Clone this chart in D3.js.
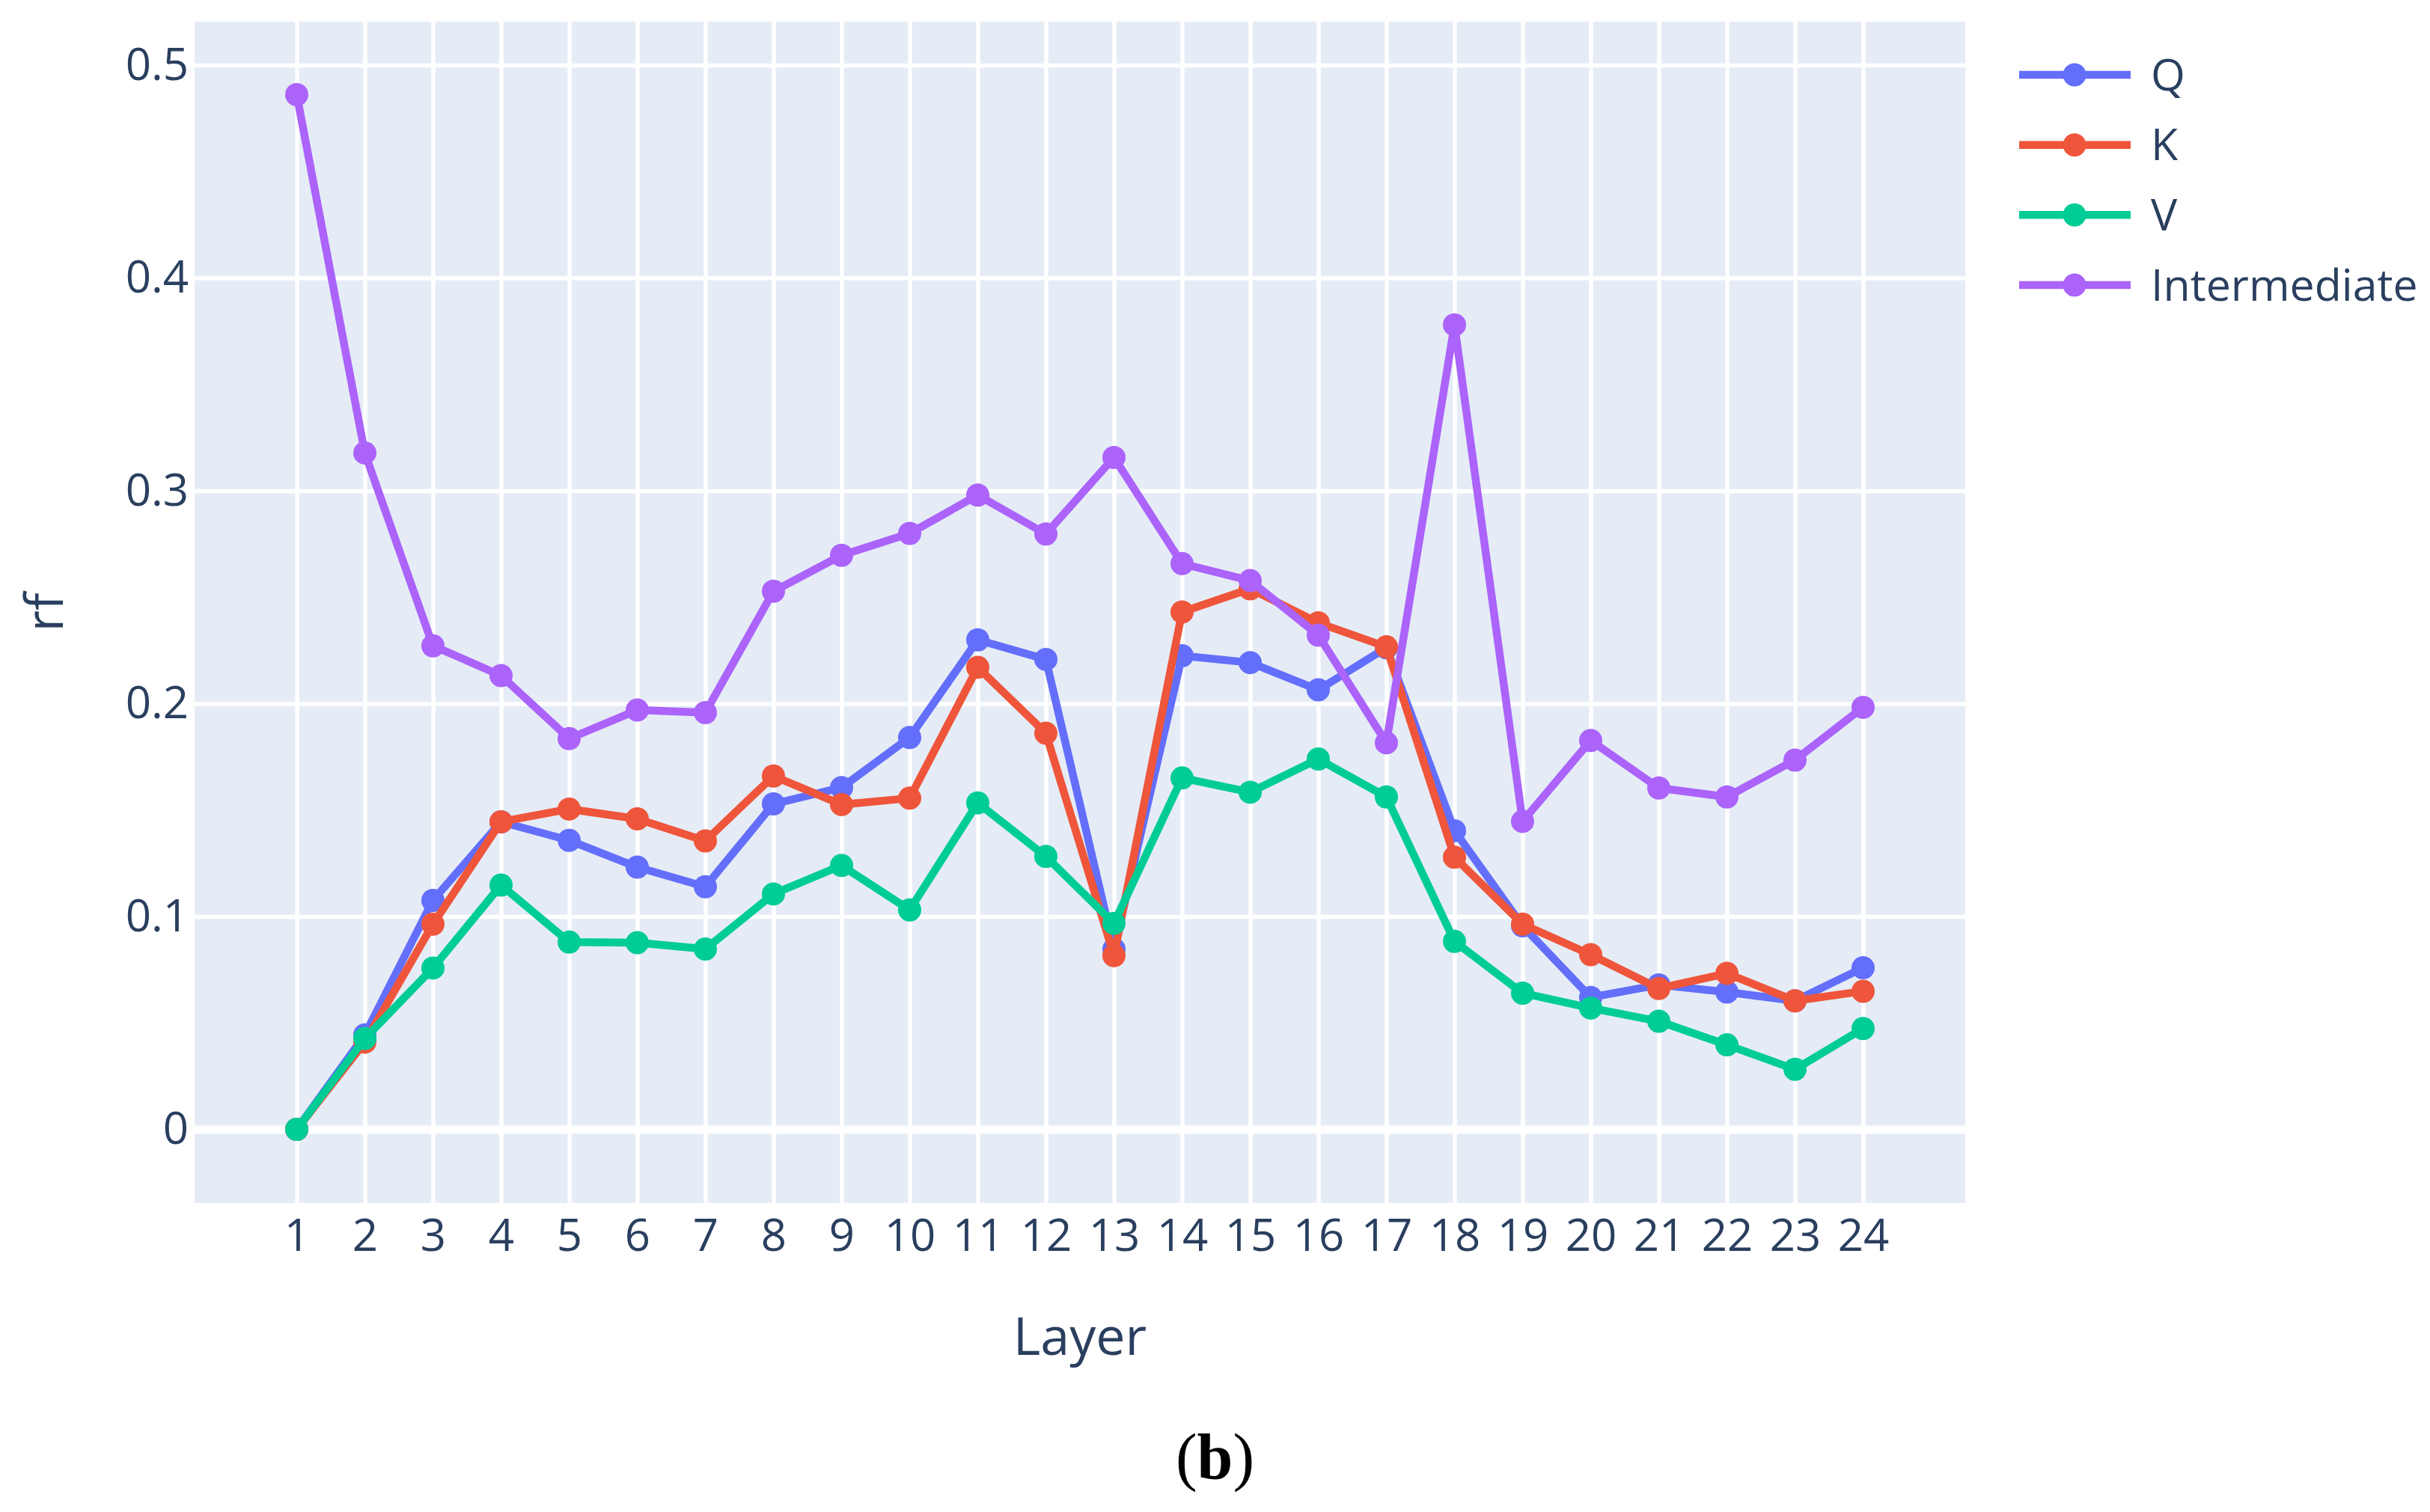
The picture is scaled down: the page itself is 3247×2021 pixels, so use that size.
<!DOCTYPE html>
<html>
<head>
<meta charset="utf-8">
<script src="https://cdn.jsdelivr.net/npm/d3@7"></script>
<style>
  html, body { margin: 0; padding: 0; background: #fff; }
  svg { display: block; }
</style>
</head>
<body>
<script>
const layers = [1,2,3,4,5,6,7,8,9,10,11,12,13,14,15,16,17,18,19,20,21,22,23,24];
const seriesNames = ["Q", "K", "V", "Intermediate"];
const qValues = [0, 0.0444, 0.1076, 0.1445, 0.1358, 0.1232, 0.114, 0.1529, 0.1606, 0.1841, 0.230, 0.2208, 0.0847, 0.2225, 0.2193, 0.2065, 0.2263, 0.1403, 0.0956, 0.062, 0.0679, 0.0645, 0.0604, 0.0759];
const kValues = [0, 0.041, 0.0964, 0.1445, 0.1505, 0.1459, 0.1355, 0.166, 0.1526, 0.1556, 0.2171, 0.1861, 0.0816, 0.2431, 0.254, 0.238, 0.2267, 0.1279, 0.0964, 0.0821, 0.0662, 0.0733, 0.0604, 0.0649];
const vValues = [0, 0.0427, 0.0758, 0.1148, 0.088, 0.0877, 0.0847, 0.1106, 0.124, 0.1031, 0.1534, 0.1282, 0.0968, 0.1651, 0.1584, 0.174, 0.1562, 0.0883, 0.064, 0.057, 0.0508, 0.0397, 0.0282, 0.0474];
const intermediateValues = [0.4861, 0.3178, 0.2272, 0.2132, 0.1836, 0.197, 0.1958, 0.2528, 0.2697, 0.280, 0.298, 0.2797, 0.3157, 0.2658, 0.2578, 0.2322, 0.1816, 0.378, 0.1447, 0.1827, 0.1604, 0.1562, 0.1735, 0.1983];
const seriesColors = ["#636efa", "#EF553B", "#00cc96", "#ab63fa"];
const yTicks = [0, 0.1, 0.2, 0.3, 0.4, 0.5];
const yTickLabels = ["0", "0.1", "0.2", "0.3", "0.4", "0.5"];
const xTitle = "Layer";
const yTitle = "rf";
const captionLetter = "b";

const W = 3247, H = 2021;
const plot = { left: 260, right: 2626, top: 29, bottom: 1608 };
const fontFamily = "'Open Sans', 'Noto Sans', sans-serif";
const textColor = "#2a3f5f";

const svg = d3.select("body").append("svg")
  .attr("width", W).attr("height", H)
  .attr("viewBox", `0 0 ${W} ${H}`);

const x = d3.scaleLinear().domain([-0.5, 25.5]).range([plot.left, plot.right]);
const y = d3.scaleLinear().domain([-0.0346, 0.5204]).range([plot.bottom, plot.top]);

// background
svg.append("rect")
  .attr("x", plot.left).attr("y", plot.top)
  .attr("width", plot.right - plot.left).attr("height", plot.bottom - plot.top)
  .attr("fill", "#E5ECF6");

// vertical grid + x tick labels
const xAxis = d3.axisBottom(x).tickValues(layers).tickFormat(d3.format("d"))
  .tickSize(-(plot.bottom - plot.top)).tickPadding(21);
const gx = svg.append("g").attr("transform", `translate(0,${plot.bottom})`).call(xAxis);
gx.select(".domain").remove();
gx.selectAll(".tick line").attr("stroke", "#fff").attr("stroke-width", 5.5);
gx.selectAll(".tick text").attr("fill", textColor)
  .style("font-family", fontFamily).style("font-size", "60px");

// horizontal grid + y tick labels
const yAxis = d3.axisLeft(y).tickValues(yTicks)
  .tickFormat((d, i) => yTickLabels[i])
  .tickSize(-(plot.right - plot.left)).tickPadding(8);
const gy = svg.append("g").attr("transform", `translate(${plot.left},0)`).call(yAxis);
gy.select(".domain").remove();
gy.selectAll(".tick line").attr("stroke", "#fff")
  .attr("stroke-width", d => d === 0 ? 11 : 5.5);
gy.selectAll(".tick text").attr("fill", textColor)
  .style("font-family", fontFamily).style("font-size", "60px");

// data
const allSeries = [qValues, kValues, vValues, intermediateValues].map((vals, i) => ({
  name: seriesNames[i], color: seriesColors[i],
  points: layers.map((l, j) => ({ layer: l, value: vals[j] }))
}));

const line = d3.line().x(d => x(d.layer)).y(d => y(d.value));
svg.append("defs").append("clipPath").attr("id", "clip")
  .append("rect").attr("x", plot.left).attr("y", plot.top)
  .attr("width", plot.right - plot.left).attr("height", plot.bottom - plot.top);

const traces = svg.append("g").attr("clip-path", "url(#clip)")
  .selectAll("g.trace").data(allSeries).join("g").attr("class", "trace");
traces.append("path")
  .attr("d", d => line(d.points))
  .attr("fill", "none")
  .attr("stroke", d => d.color)
  .attr("stroke-width", 10.5)
  .attr("stroke-linejoin", "round");
traces.selectAll("circle").data(d => d.points.map(p => ({ ...p, color: d.color })))
  .join("circle")
  .attr("cx", d => x(d.layer)).attr("cy", d => y(d.value))
  .attr("r", 15.5).attr("fill", d => d.color);

// legend
const legend = svg.append("g");
const legendY = d3.scalePoint().domain(seriesNames).range([100, 381]);
const items = legend.selectAll("g").data(allSeries).join("g")
  .attr("transform", d => `translate(0,${legendY(d.name)})`);
items.append("line").attr("x1", 2698).attr("x2", 2847).attr("y1", 0).attr("y2", 0)
  .attr("stroke", d => d.color).attr("stroke-width", 10.5);
items.append("circle").attr("cx", 2772).attr("cy", 0).attr("r", 15.5)
  .attr("fill", d => d.color);
items.append("text").attr("x", 2874).attr("y", 0).attr("dy", "0.35em")
  .attr("fill", textColor).style("font-family", fontFamily).style("font-size", "59px")
  .text(d => d.name);

// axis titles
svg.append("text").attr("x", (plot.left + plot.right) / 2).attr("y", 1811)
  .attr("text-anchor", "middle").attr("fill", textColor)
  .style("font-family", fontFamily).style("font-size", "70px").text(xTitle);
svg.append("text")
  .attr("transform", `translate(84,${(plot.top + plot.bottom) / 2}) rotate(-90)`)
  .attr("text-anchor", "middle").attr("fill", textColor)
  .style("font-family", fontFamily).style("font-size", "70px").text(yTitle);

// caption
const cap = svg.append("text").attr("x", W / 2).attr("y", 1976)
  .attr("text-anchor", "middle").attr("fill", "#000")
  .style("font-family", "'Liberation Serif', 'DejaVu Serif', serif")
  .style("font-size", "86px");
cap.append("tspan").style("font-weight", "normal").text("(");
cap.append("tspan").style("font-weight", "bold").text(captionLetter);
cap.append("tspan").style("font-weight", "normal").text(")");
</script>
</body>
</html>
